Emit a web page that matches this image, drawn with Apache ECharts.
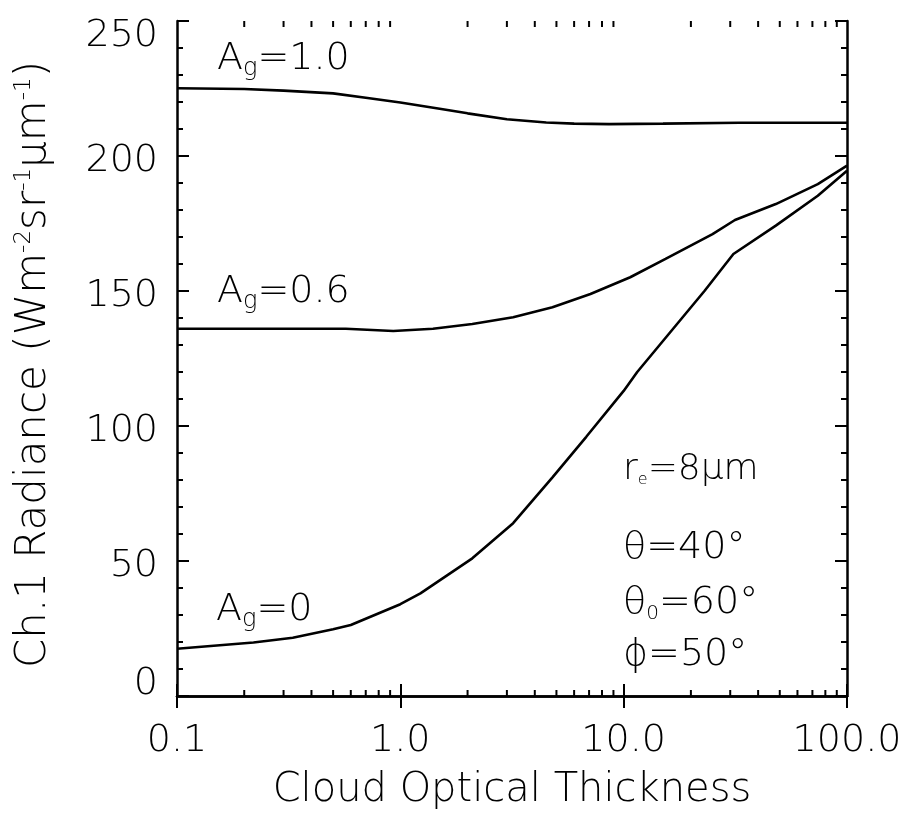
<!DOCTYPE html>
<html>
<head>
<meta charset="utf-8">
<script src="https://cdn.jsdelivr.net/npm/echarts@6/dist/echarts.min.js"></script>
<style>
html,body{margin:0;padding:0;background:#fff;}
#chart{width:907px;height:820px;}
</style>
</head>
<body>
<div id="chart"></div>
<script>
// ---- data ----
const tauAg10 = [0.1, 0.2, 0.3, 0.5, 0.7, 1.0, 1.5, 2.0, 3.0, 4.5, 6.0, 8.6, 15, 33, 100];
const radAg10 = [225.1, 224.8, 224.2, 223.2, 221.6, 219.8, 217.5, 215.8, 213.6, 212.4, 212.0, 211.8, 212.0, 212.3, 212.3];

const tauAg06 = [0.1, 0.3, 0.57, 0.93, 1.4, 2.1, 3.2, 4.8, 7.1, 10.7, 15.4, 25, 31.5, 48, 74, 100];
const radAg06 = [136.0, 136.0, 136.0, 135.2, 136.0, 137.8, 140.3, 144.0, 148.9, 155.1, 161.9, 171.1, 176.3, 182.2, 189.6, 196.4];

const tauAg00 = [0.1, 0.22, 0.33, 0.5, 0.6, 1.0, 1.23, 2.1, 3.2, 4.8, 6.8, 10, 11.5, 23, 31, 48, 74, 100];
const radAg00 = [17.5, 19.8, 21.6, 24.7, 26.3, 34.0, 38.0, 51.0, 64.0, 81.0, 96.0, 113.0, 120.0, 150.0, 163.7, 174.2, 185.3, 194.5];

const xMinorTicks = [0.2,0.3,0.4,0.5,0.6,0.7,0.8,0.9, 2,3,4,5,6,7,8,9, 20,30,40,50,60,70,80,90];
const xRange = [0.1, 100];
const yRange = [0, 250];
const yStep = 50;

const FONT = 'DejaVu Sans';
const FW = 200;
const zip = (xs, ys) => xs.map((x, i) => [x, ys[i]]);

const chart = echarts.init(document.getElementById('chart'), null, {renderer: 'canvas'});

const axisLineStyle = {color: '#000', width: 2.5};
const tickStyle = {color: '#000', width: 2};

function ts(size, extra) {
  return Object.assign({fontFamily: FONT, fontSize: size, fontWeight: FW, color: '#000'}, extra || {});
}

const yLabelRich = {
  t: ts(38, {padding: [30, 0, 0, 0]}),
  b: ts(38, {padding: [0, 0, 24, 0]}),
  m: ts(38, {padding: [10, 0, 0, 0]})
};

function richText(text, x, y, rich, size) {
  return {
    type: 'text', x: x, y: y, silent: true,
    style: {
      text: text, rich: rich, fill: '#000',
      fontFamily: FONT, fontSize: size, fontWeight: FW,
      align: 'left', verticalAlign: 'middle'
    }
  };
}

const agRich = {
  n: ts(38),
  g: ts(24, {padding: [20, 0, 0, 0]})
};
const paramRich = {
  n: ts(38),
  i: ts(38),
  s: ts(20, {padding: [22, 0, 0, 0]})
};
const reRich = {
  n: ts(36),
  i: ts(36),
  s: ts(16, {padding: [20, 0, 0, 0]})
};

const option = {
  animation: false,
  backgroundColor: '#fff',
  grid: {left: 177, right: 60, top: 21, bottom: 124, containLabel: false},
  xAxis: [
    {
      type: 'log', logBase: 10, min: xRange[0], max: xRange[1], position: 'bottom',
      name: 'Cloud Optical Thickness', nameLocation: 'middle', nameGap: 75,
      nameTextStyle: ts(40),
      axisLine: {show: true, lineStyle: axisLineStyle},
      axisTick: {show: true, inside: true, length: 12, lineStyle: tickStyle},
      axisLabel: Object.assign(ts(38), {show: true, margin: 26, formatter: v => Number(v).toFixed(1)}),
      splitLine: {show: false}, minorTick: {show: false}
    },
    {
      type: 'log', logBase: 10, min: xRange[0], max: xRange[1], position: 'top',
      axisLine: {show: true, lineStyle: axisLineStyle},
      axisTick: {show: true, inside: true, length: 12, lineStyle: tickStyle},
      axisLabel: {show: false}, splitLine: {show: false}
    }
  ],
  yAxis: [
    {
      type: 'value', min: yRange[0], max: yRange[1], interval: yStep, position: 'left',
      name: 'Ch.1 Radiance (Wm{sup|-2}sr{sup|-1}{mu|μ}m{sup|-1})',
      nameLocation: 'middle', nameRotate: 90, nameGap: 122,
      nameTextStyle: Object.assign(ts(42), {
        padding: [0, 12, 0, 0],
        rich: {
          sup: ts(23, {verticalAlign: 'top', lineHeight: 23}),
          mu: ts(42)
        }
      }),
      axisLine: {show: true, lineStyle: axisLineStyle},
      axisTick: {show: true, inside: true, length: 12, lineStyle: tickStyle},
      minorTick: {show: true, splitNumber: 5, length: 6, lineStyle: tickStyle},
      axisLabel: Object.assign(ts(38), {show: true, margin: 19,
        formatter: v => v === yRange[1] ? '{t|' + v + '}' : (v === yRange[0] ? '{b|' + v + '}' : '{m|' + v + '}'),
        rich: yLabelRich}),
      splitLine: {show: false}, minorSplitLine: {show: false}
    },
    {
      type: 'value', min: yRange[0], max: yRange[1], interval: yStep, position: 'right',
      axisLine: {show: true, lineStyle: axisLineStyle},
      axisTick: {show: true, inside: true, length: 12, lineStyle: tickStyle},
      minorTick: {show: true, splitNumber: 5, length: 6, lineStyle: tickStyle},
      axisLabel: {show: false}, splitLine: {show: false}
    }
  ],
  series: [
    {type: 'line', name: 'Ag=1.0', data: zip(tauAg10, radAg10), showSymbol: false, symbol: 'none',
      lineStyle: {color: '#000', width: 2.6}, xAxisIndex: 0, yAxisIndex: 0},
    {type: 'line', name: 'Ag=0.6', data: zip(tauAg06, radAg06), showSymbol: false, symbol: 'none',
      lineStyle: {color: '#000', width: 2.6}, xAxisIndex: 0, yAxisIndex: 0},
    {type: 'line', name: 'Ag=0', data: zip(tauAg00, radAg00), showSymbol: false, symbol: 'none',
      lineStyle: {color: '#000', width: 2.6}, xAxisIndex: 0, yAxisIndex: 0},
    {
      type: 'custom', name: 'minorTicks', xAxisIndex: 0, yAxisIndex: 0, silent: true, clip: false,
      data: xMinorTicks.map(v => [v, yRange[0]]),
      renderItem: function (params, api) {
        const x = api.coord([api.value(0), yRange[0]])[0];
        const cs = params.coordSys;
        const yb = cs.y + cs.height, yt = cs.y;
        return {type: 'group', children: [
          {type: 'line', shape: {x1: x, y1: yb, x2: x, y2: yb - 6}, style: {stroke: '#000', lineWidth: 2}},
          {type: 'line', shape: {x1: x, y1: yt, x2: x, y2: yt + 6}, style: {stroke: '#000', lineWidth: 2}}
        ]};
      }
    }
  ],
  graphic: [
    richText('{n|A}{g|g}{n|=1.0}', 217, 59, agRich, 38),
    richText('{n|A}{g|g}{n|=0.6}', 217, 292, agRich, 38),
    richText('{n|A}{g|g}{n|=0}', 216, 610, agRich, 38),
    richText('{n|r}{s|e}{n|=8}{i|μ}{n|m}', 623, 470, reRich, 36),
    richText('{i|θ}{n|=40°}', 623, 548, paramRich, 38),
    richText('{i|θ}{s|0}{n|=60°}', 623, 603, paramRich, 38),
    richText('{i|ϕ}{n|=50°}', 623, 655, paramRich, 38)
  ]
};

chart.setOption(option);
</script>
</body>
</html>
